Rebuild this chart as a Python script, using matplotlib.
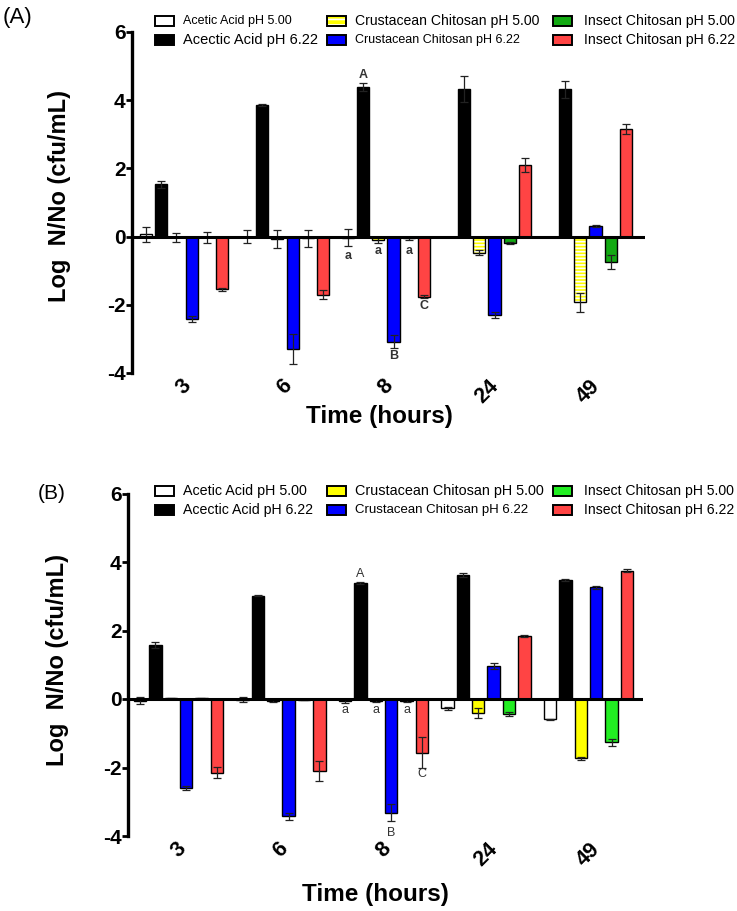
import matplotlib.pyplot as plt
from matplotlib.patches import Rectangle

plt.rcParams['font.family'] = ['Liberation Sans', 'DejaVu Sans']
plt.rcParams['hatch.linewidth'] = 1.2

W, H = 737, 911

times = ['3', '6', '8', '24', '49']
series = ['Acetic Acid pH 5.00', 'Acectic Acid pH 6.22', 'Crustacean Chitosan pH 5.00',
          'Crustacean Chitosan pH 6.22', 'Insect Chitosan pH 5.00', 'Insect Chitosan pH 6.22']

# panel A (means and SD)
a_acetic5 = [0.07, 0.0, -0.03, 0.0, 0.0]
a_acetic5_err = [0.22, 0.18, 0.26, 0.0, 0.0]
a_acetic6 = [1.53, 3.86, 4.38, 4.34, 4.32]
a_acetic6_err = [0.1, 0.03, 0.11, 0.38, 0.25]
a_crust5 = [-0.02, -0.06, -0.1, -0.47, -1.93]
a_crust5_err = [0.13, 0.26, 0.1, 0.07, 0.27]
a_crust6 = [-2.42, -3.3, -3.08, -2.3, 0.3]
a_crust6_err = [0.08, 0.45, 0.18, 0.1, 0.03]
a_insect5 = [-0.02, -0.05, -0.05, -0.18, -0.75]
a_insect5_err = [0.16, 0.25, 0.05, 0.03, 0.2]
a_insect6 = [-1.55, -1.7, -1.76, 2.1, 3.15]
a_insect6_err = [0.05, 0.12, 0.05, 0.2, 0.15]

# panel B
b_acetic5 = [-0.05, -0.02, -0.07, -0.27, -0.59]
b_acetic5_err = [0.1, 0.08, 0.05, 0.05, 0.02]
b_acetic6 = [1.58, 3.02, 3.4, 3.62, 3.47]
b_acetic6_err = [0.08, 0.02, 0.03, 0.05, 0.02]
b_crust5 = [0.02, -0.05, -0.05, -0.4, -1.73]
b_crust5_err = [0.02, 0.05, 0.05, 0.15, 0.05]
b_crust6 = [-2.6, -3.42, -3.32, 0.96, 3.26]
b_crust6_err = [0.05, 0.1, 0.25, 0.08, 0.05]
b_insect5 = [0.02, -0.02, -0.05, -0.44, -1.27]
b_insect5_err = [0.02, 0.02, 0.05, 0.05, 0.1]
b_insect6 = [-2.15, -2.1, -1.57, 1.84, 3.75]
b_insect6_err = [0.17, 0.3, 0.45, 0.02, 0.05]

colors_a = ['white', 'black', '#FFFF00', '#0000FF', '#12AA12', '#FF4444']
colors_b = ['white', 'black', '#FFFF00', '#0000FF', '#22EE22', '#FF4444']

step = 0.15
bw = 0.12


def px_ax(x0, y0, x1, y1):
    return [x0 / W, 1 - y1 / H, (x1 - x0) / W, (y1 - y0) / H]


def draw_panel(ax, vals, errs, colors, hatched, xlim):
    for k in range(6):
        xs = [g + k * step for g in range(len(times))]
        if hatched and k == 2:
            ax.bar(xs, vals[k], bw, color=colors[k], edgecolor='white', lw=0,
                   hatch='-----', zorder=2)
            ax.bar(xs, vals[k], bw, fill=False, edgecolor='black', lw=1, zorder=2)
        else:
            ax.bar(xs, vals[k], bw, color=colors[k], edgecolor='black', lw=1, zorder=2)
        ax.errorbar(xs, vals[k], yerr=errs[k], fmt='none', ecolor='#222222',
                    elinewidth=0.9, capsize=3.2, capthick=0.9, zorder=3)
    ax.axhline(0, color='black', lw=2.2, zorder=4)
    ax.set_xlim(*xlim)
    ax.set_ylim(-4, 6)
    for s in ['top', 'right', 'bottom']:
        ax.spines[s].set_visible(False)
    ax.spines['left'].set_linewidth(2.4)
    ax.set_yticks([-4, -2, 0, 2, 4, 6], labels=['-4', '-2', '0', '2', '4', '6'])
    ax.set_xticks([g + 2.5 * step for g in range(len(times))], labels=times)
    ax.tick_params(axis='y', length=4, width=2, pad=0.5, labelsize=15)
    ax.tick_params(axis='x', length=0, pad=2, labelsize=15.5, labelrotation=45)
    for t in ax.get_yticklabels() + ax.get_xticklabels():
        t.set_fontweight('bold')
    ax.set_ylabel('Log  N/No (cfu/mL)', fontsize=17, fontweight='bold', va='center')


def draw_legend(fig, rows_y, sizes, colors, hatched):
    cols_x = [155, 327, 553]
    text_x = [183, 355, 584]
    for i, name in enumerate(series):
        c, r = i // 2, i % 2
        y = rows_y[r]
        box = ((cols_x[c] / W, 1 - (y + 5) / H), 19 / W, 10 / H)
        if hatched and i == 2:
            fig.patches.append(Rectangle(*box, transform=fig.transFigure, facecolor=colors[i],
                                         edgecolor='white', lw=0, hatch='---'))
            fig.patches.append(Rectangle(*box, transform=fig.transFigure, fill=False,
                                         edgecolor='black', lw=1.4))
        else:
            fig.patches.append(Rectangle(*box, transform=fig.transFigure, facecolor=colors[i],
                                         edgecolor='black', lw=1.4))
        fig.text(text_x[c] / W, 1 - y / H, name, fontsize=sizes[i], va='center', ha='left')


fig = plt.figure(figsize=(W / 100, H / 100), dpi=100)

axA = fig.add_axes(px_ax(132, 32, 645, 373))
draw_panel(axA, [a_acetic5, a_acetic6, a_crust5, a_crust6, a_insect5, a_insect6],
           [a_acetic5_err, a_acetic6_err, a_crust5_err, a_crust6_err, a_insect5_err, a_insect6_err],
           colors_a, True, (-0.14, 4.94))
axA.yaxis.set_label_coords(-0.141, 0.52)

axB = fig.add_axes(px_ax(128, 493.5, 643, 836))
draw_panel(axB, [b_acetic5, b_acetic6, b_crust5, b_crust6, b_insect5, b_insect6],
           [b_acetic5_err, b_acetic6_err, b_crust5_err, b_crust6_err, b_insect5_err, b_insect6_err],
           colors_b, False, (-0.117, 4.907))
axB.yaxis.set_label_coords(-0.136, 0.514)

# significance letters
for ax, ys, labels, weight in [
        (axA, [-0.56, 4.74, -0.42, -3.5, -0.42, -2.03], ['a', 'A', 'a', 'B', 'a', 'C'], 'bold'),
        (axB, [-0.32, 3.65, -0.32, -3.9, -0.32, -2.2], ['a', 'A', 'a', 'B', 'a', 'C'], 'normal')]:
    for k in range(6):
        ax.text(2 + k * step, ys[k], labels[k], fontsize=9, fontweight=weight,
                color='#333333', ha='center', va='center', zorder=5)

fig.text(379 / W, 1 - 416 / H, 'Time (hours)', fontsize=17.5, fontweight='bold', ha='center', va='center')
fig.text(375 / W, 1 - 895 / H, 'Time (hours)', fontsize=17.5, fontweight='bold', ha='center', va='center')

fig.text(3 / W, 1 - 18 / H, '(A)', fontsize=16, va='center', ha='left')
fig.text(38 / W, 1 - 493 / H, '(B)', fontsize=15, va='center', ha='left')

draw_legend(fig, [21, 40], [9, 10.5, 10.1, 9, 10.2, 10.2], colors_a, True)
draw_legend(fig, [491, 510], [10.3, 10.2, 10.4, 9.5, 10.1, 10.1], colors_b, False)

fig.savefig('out.png', dpi=100)
